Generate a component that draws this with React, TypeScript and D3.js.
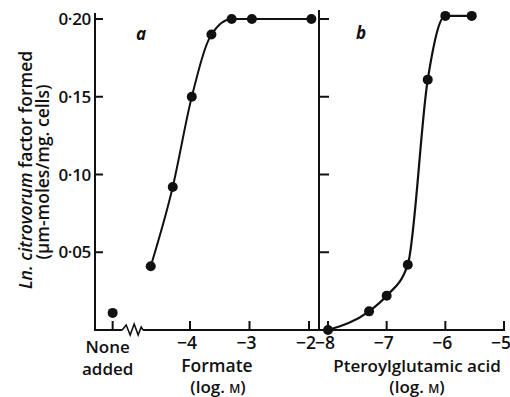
import { useEffect, useRef } from 'react';
import * as d3 from 'd3';

// Panel a: formate (log M) vs factor formed
const formateLog = [-4.66, -4.29, -3.97, -3.64, -3.3, -2.96, -1.96];
const formateVal = [0.041, 0.092, 0.15, 0.19, 0.2, 0.2, 0.2];
// "None added" control, drawn left of the axis break
const noneAddedPos = -5.3;
const noneAddedVal = 0.011;

// Panel b: pteroylglutamic acid (log M)
const pgaLog = [-8, -7.3, -7.0, -6.64, -6.3, -6.0, -5.55];
const pgaVal = [0, 0.012, 0.022, 0.042, 0.161, 0.202, 0.202];

const yTicks = [0.05, 0.1, 0.15, 0.2];
const yTickLabels = ['0·05', '0·10', '0·15', '0·20'];
const xTicksA = [-4, -3, -2];
const xTicksB = [-8, -7, -6, -5];

const FONT = '"Open Sans", "DejaVu Sans", sans-serif';

export default function App() {
  const svgRef = useRef<SVGSVGElement>(null);

  useEffect(() => {
    if (!svgRef.current) return;
    const svg = d3.select(svgRef.current);
    svg.selectAll('*').remove();

    const y = d3.scaleLinear().domain([0, 0.2]).range([330, 19]);
    const xA = d3.scaleLinear().domain([-4, -2]).range([190, 309]);
    const xB = d3.scaleLinear().domain([-8, -5]).range([328, 504]);

    const axisLeftX = 95;
    const midX = 319;
    const base = y(0);
    const ink = '#111';

    // vertical axes
    svg.append('line')
      .attr('x1', axisLeftX).attr('x2', axisLeftX)
      .attr('y1', 13).attr('y2', base + 1)
      .attr('stroke', ink).attr('stroke-width', 2);
    svg.append('line')
      .attr('x1', midX).attr('x2', midX)
      .attr('y1', 10).attr('y2', base + 1)
      .attr('stroke', ink).attr('stroke-width', 2);

    // left y ticks + labels
    yTicks.forEach((t, i) => {
      svg.append('line')
        .attr('x1', axisLeftX).attr('x2', axisLeftX + 8)
        .attr('y1', y(t)).attr('y2', y(t))
        .attr('stroke', ink).attr('stroke-width', 2);
      svg.append('text')
        .attr('x', axisLeftX - 4).attr('y', y(t))
        .attr('dy', '0.36em')
        .attr('text-anchor', 'end')
        .attr('font-size', 17)
        .attr('font-weight', 600)
        .attr('letter-spacing', -0.3)
        .attr('fill', ink)
        .text(yTickLabels[i]);
      // ticks on middle axis
      svg.append('line')
        .attr('x1', midX).attr('x2', midX + 10)
        .attr('y1', y(t)).attr('y2', y(t))
        .attr('stroke', ink).attr('stroke-width', 2);
    });

    // baseline with break
    const breakL = xA(-5.14);
    const breakR = xA(-4.79);
    svg.append('line')
      .attr('x1', axisLeftX - 1).attr('x2', breakL)
      .attr('y1', base).attr('y2', base)
      .attr('stroke', ink).attr('stroke-width', 2);
    const zz: [number, number][] = [
      [breakL, base],
      [breakL + 4, base - 5],
      [breakL + 8, base + 5],
      [breakL + 12, base - 6],
      [breakL + 16, base + 5],
      [breakL + 19, base - 3],
      [breakR, base]
    ];
    svg.append('path')
      .attr('d', d3.line()(zz))
      .attr('fill', 'none')
      .attr('stroke', ink).attr('stroke-width', 1.6);
    svg.append('line')
      .attr('x1', breakR).attr('x2', xB(-5) + 1)
      .attr('y1', base).attr('y2', base)
      .attr('stroke', ink).attr('stroke-width', 2);

    // x ticks (inward)
    const tickUp = (x: number) =>
      svg.append('line')
        .attr('x1', x).attr('x2', x)
        .attr('y1', base).attr('y2', base - 9)
        .attr('stroke', ink).attr('stroke-width', 2);
    tickUp(xA(noneAddedPos));
    xTicksA.forEach((t) => tickUp(xA(t)));
    xTicksB.forEach((t) => tickUp(xB(t)));

    const label = (x: number, yy: number, s: string, size = 17) =>
      svg.append('text')
        .attr('x', x).attr('y', yy)
        .attr('text-anchor', 'middle')
        .attr('font-size', size)
        .attr('font-weight', 600)
        .attr('fill', ink)
        .text(s);

    xTicksA.forEach((t) => label(xA(t) - 3, 348.5, `−${Math.abs(t)}`, 17.5));
    xTicksB.forEach((t) => label(xB(t) - 3, 348.5, `−${Math.abs(t)}`, 17.5));

    label(xA(noneAddedPos) - 5, 353, 'None');
    label(xA(noneAddedPos) - 5, 375, 'added');
    label(217, 372, 'Formate', 17.5);
    label(417, 372, 'Pteroylglutamic acid', 17);

    const logM = (cx: number) => {
      const t = svg.append('text')
        .attr('x', cx).attr('y', 393)
        .attr('text-anchor', 'middle')
        .attr('font-size', 17)
        .attr('font-weight', 600)
        .attr('fill', ink);
      t.append('tspan').text('(log. ');
      t.append('tspan').attr('font-size', 12).text('M');
      t.append('tspan').text(')');
    };
    logM(218);
    logM(417);

    // panel letters
    svg.append('text')
      .attr('x', 136).attr('y', 40)
      .attr('font-size', 17).attr('font-style', 'italic').attr('font-weight', 'bold')
      .attr('fill', ink).text('a');
    svg.append('text')
      .attr('x', 356).attr('y', 39)
      .attr('font-size', 17).attr('font-style', 'italic').attr('font-weight', 'bold')
      .attr('fill', ink).text('b');

    // y label
    const yl1 = svg.append('text')
      .attr('transform', 'translate(32,170) rotate(-90)')
      .attr('text-anchor', 'middle')
      .attr('font-size', 17.5)
      .attr('font-weight', 600)
      .attr('fill', ink);
    yl1.append('tspan').attr('font-style', 'italic').text('Ln. citrovorum');
    yl1.append('tspan').text(' factor formed');
    svg.append('text')
      .attr('transform', 'translate(49,172) rotate(-90)')
      .attr('text-anchor', 'middle')
      .attr('font-size', 17.5)
      .attr('font-weight', 600)
      .attr('fill', ink)
      .text('(µm-moles/mg. cells)');

    // curves
    const lineA = d3.line<number>()
      .x((_, i) => xA(formateLog[i]))
      .y((d) => y(d))
      .curve(d3.curveMonotoneX);
    svg.append('path')
      .attr('d', lineA(formateVal))
      .attr('fill', 'none').attr('stroke', ink).attr('stroke-width', 2);

    const lineB = d3.line<number>()
      .x((_, i) => xB(pgaLog[i]))
      .y((d) => y(d))
      .curve(d3.curveMonotoneX);
    svg.append('path')
      .attr('d', lineB(pgaVal))
      .attr('fill', 'none').attr('stroke', ink).attr('stroke-width', 2.2);

    // dots
    svg.append('circle')
      .attr('cx', xA(noneAddedPos)).attr('cy', y(noneAddedVal))
      .attr('r', 5).attr('fill', ink);
    formateVal.forEach((v, i) => {
      svg.append('circle')
        .attr('cx', xA(formateLog[i])).attr('cy', y(v))
        .attr('r', 5).attr('fill', ink);
    });
    pgaVal.forEach((v, i) => {
      svg.append('circle')
        .attr('cx', xB(pgaLog[i])).attr('cy', y(v))
        .attr('r', 5).attr('fill', ink);
    });
  }, []);

  return (
    <svg
      ref={svgRef}
      width={510}
      height={397}
      style={{ position: 'absolute', left: 0, top: 0, fontFamily: FONT, background: '#fff' }}
    />
  );
}
